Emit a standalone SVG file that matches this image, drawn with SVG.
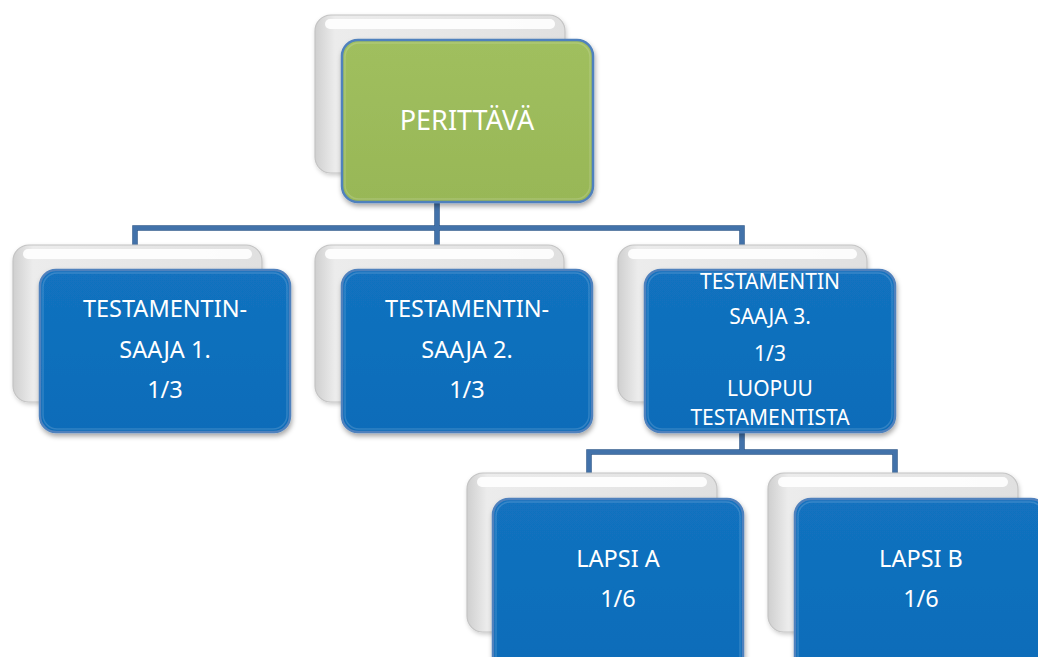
<svg xmlns="http://www.w3.org/2000/svg" width="1038" height="657" viewBox="0 0 1038 657">
  <defs>
    <linearGradient id="backSide" x1="0" y1="0" x2="1" y2="0">
      <stop offset="0" stop-color="#cfcfcf"/>
      <stop offset="0.08" stop-color="#ececec"/>
      <stop offset="1" stop-color="#e0e0e0"/>
    </linearGradient>
    <linearGradient id="blueFill" x1="0" y1="0" x2="0" y2="1">
      <stop offset="0" stop-color="#1272bf"/>
      <stop offset="1" stop-color="#0e6cb9"/>
    </linearGradient>
    <linearGradient id="greenFill" x1="0" y1="0" x2="0" y2="1">
      <stop offset="0" stop-color="#a0bf5e"/>
      <stop offset="1" stop-color="#98b757"/>
    </linearGradient>
    <filter id="shadow" x="-10%" y="-10%" width="125%" height="130%">
      <feDropShadow dx="1" dy="3" stdDeviation="2.5" flood-color="#000" flood-opacity="0.35"/>
    </filter>
    <filter id="softShadow" x="-10%" y="-10%" width="125%" height="130%">
      <feDropShadow dx="1" dy="2" stdDeviation="2" flood-color="#000" flood-opacity="0.2"/>
    </filter>
  </defs>
  <style>
    .back { fill: url(#backSide); stroke: #c4c4c4; stroke-width: 1.2; }
    .backTop { fill: #ffffff; opacity: 0.9; }
    .front { stroke: #4f81bd; stroke-width: 2.5; }
    .blue { fill: url(#blueFill); }
    .green { fill: url(#greenFill); }
    .gloss { fill: none; stroke: #ffffff; stroke-opacity: 0.15; stroke-width: 1.5; }
    .label { font-family: "Noto Sans", "Open Sans", sans-serif; fill: #ffffff; text-anchor: middle; }
    .conn { fill: none; stroke: #4272aa; stroke-width: 4; stroke-linejoin: miter; }
    .connEdge { fill: none; stroke: #2f5a8c; stroke-width: 5.5; }
  </style>

  <rect width="1038" height="657" fill="#ffffff"/>

  <!-- connectors -->
  <g id="connectors">
    <path class="connEdge" d="M437 200 V228 M135 245 V228 H742 V245 M437 228 V245"/>
    <path class="conn" d="M437 200 V228 M135 245 V228 H742 V245 M437 228 V245"/>
    <path class="connEdge" d="M742 430 V452 M589 473 V452 H895 V473"/>
    <path class="conn" d="M742 430 V452 M589 473 V452 H895 V473"/>
  </g>

  <!-- top node -->
  <g id="node-perittava">
    <rect class="back" x="315" y="15" width="250" height="158" rx="16" filter="url(#softShadow)"/>
    <rect class="backTop" x="325" y="19" width="230" height="10" rx="5"/>
    <rect class="front green" x="342" y="40" width="251" height="162" rx="16" filter="url(#shadow)"/>
    <rect class="gloss" x="345" y="43" width="245" height="156" rx="14"/>
    <text class="label" x="467" y="130" font-size="27">PERITTÄVÄ</text>
  </g>

  <!-- second level -->
  <g id="node-saaja1">
    <rect class="back" x="13" y="245" width="249" height="157" rx="16" filter="url(#softShadow)"/>
    <rect class="backTop" x="23" y="249" width="229" height="10" rx="5"/>
    <rect class="front blue" x="40" y="270" width="250" height="162" rx="16" filter="url(#shadow)"/>
    <rect class="gloss" x="43" y="273" width="244" height="156" rx="14"/>
    <text class="label" font-size="23.5"><tspan x="165" y="317">TESTAMENTIN-</tspan><tspan x="165" y="358">SAAJA 1.</tspan><tspan x="165" y="398">1/3</tspan></text>
  </g>

  <g id="node-saaja2">
    <rect class="back" x="315" y="245" width="249" height="157" rx="16" filter="url(#softShadow)"/>
    <rect class="backTop" x="325" y="249" width="229" height="10" rx="5"/>
    <rect class="front blue" x="342" y="270" width="250" height="162" rx="16" filter="url(#shadow)"/>
    <rect class="gloss" x="345" y="273" width="244" height="156" rx="14"/>
    <text class="label" font-size="23.5"><tspan x="467" y="317">TESTAMENTIN-</tspan><tspan x="467" y="358">SAAJA 2.</tspan><tspan x="467" y="398">1/3</tspan></text>
  </g>

  <g id="node-saaja3">
    <rect class="back" x="618" y="245" width="249" height="157" rx="16" filter="url(#softShadow)"/>
    <rect class="backTop" x="628" y="249" width="229" height="10" rx="5"/>
    <rect class="front blue" x="645" y="270" width="250" height="162" rx="16" filter="url(#shadow)"/>
    <rect class="gloss" x="648" y="273" width="244" height="156" rx="14"/>
    <text class="label" font-size="21"><tspan x="770" y="289">TESTAMENTIN</tspan><tspan x="770" y="324">SAAJA 3.</tspan><tspan x="770" y="361">1/3</tspan><tspan x="770" y="396">LUOPUU</tspan><tspan x="770" y="425">TESTAMENTISTA</tspan></text>
  </g>

  <!-- third level -->
  <g id="node-lapsiA">
    <rect class="back" x="467" y="473" width="250" height="159" rx="16" filter="url(#softShadow)"/>
    <rect class="backTop" x="477" y="477" width="230" height="10" rx="5"/>
    <rect class="front blue" x="493" y="499" width="250" height="175" rx="16" filter="url(#shadow)"/>
    <rect class="gloss" x="496" y="502" width="244" height="169" rx="14"/>
    <text class="label" font-size="23.5"><tspan x="618" y="567">LAPSI A</tspan><tspan x="618" y="607">1/6</tspan></text>
  </g>

  <g id="node-lapsiB">
    <rect class="back" x="768" y="473" width="250" height="159" rx="16" filter="url(#softShadow)"/>
    <rect class="backTop" x="778" y="477" width="230" height="10" rx="5"/>
    <rect class="front blue" x="795" y="499" width="252" height="175" rx="16" filter="url(#shadow)"/>
    <rect class="gloss" x="798" y="502" width="246" height="169" rx="14"/>
    <text class="label" font-size="23.5"><tspan x="921" y="567">LAPSI B</tspan><tspan x="921" y="607">1/6</tspan></text>
  </g>
</svg>
